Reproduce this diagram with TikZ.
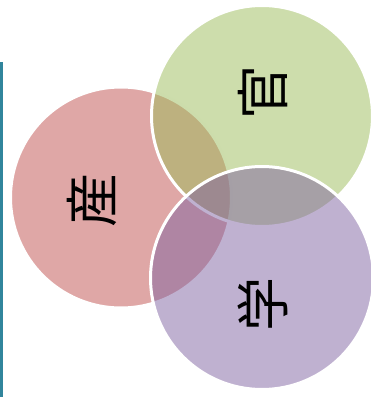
\documentclass[tikz,border=0pt]{standalone}
\usepackage{fontspec}
\newfontfamily\cjk{Noto Sans CJK JP}
\definecolor{cred}{HTML}{C0504D}
\definecolor{cgreen}{HTML}{9BBB59}
\definecolor{cpurple}{HTML}{8064A2}
\definecolor{cteal}{HTML}{31859C}
\begin{document}
\begin{tikzpicture}[x=1pt,y=-1pt,
  vcircle/.style={circle, minimum size=#1, inner sep=0pt, fill opacity=0.5, draw=white, draw opacity=1, line width=3pt},
  vlabel/.style={font=\cjk\fontsize{54}{54}\selectfont, rotate=90, inner sep=0pt, text opacity=1}]
\useasboundingbox (0,0) rectangle (371,399);
\node[vcircle=221pt, fill=cred] (san) at (121,197.5) {};
\node[vcircle=221pt, fill=cgreen] (kan) at (262,116) {};
\node[vcircle=223pt, fill=cpurple] (gaku) at (262,278) {};
\node[vlabel] (tsan) at (92,200) {産};
\node[vlabel] (tkan) at (263,92) {官};
\node[vlabel] (tgaku) at (263,304) {学};
\coordinate (lt) at (1.3,62);
\coordinate (lb) at (1.3,397);
\draw[cteal, line width=2.6pt] (lt) -- (lb);
\end{tikzpicture}
\end{document}
